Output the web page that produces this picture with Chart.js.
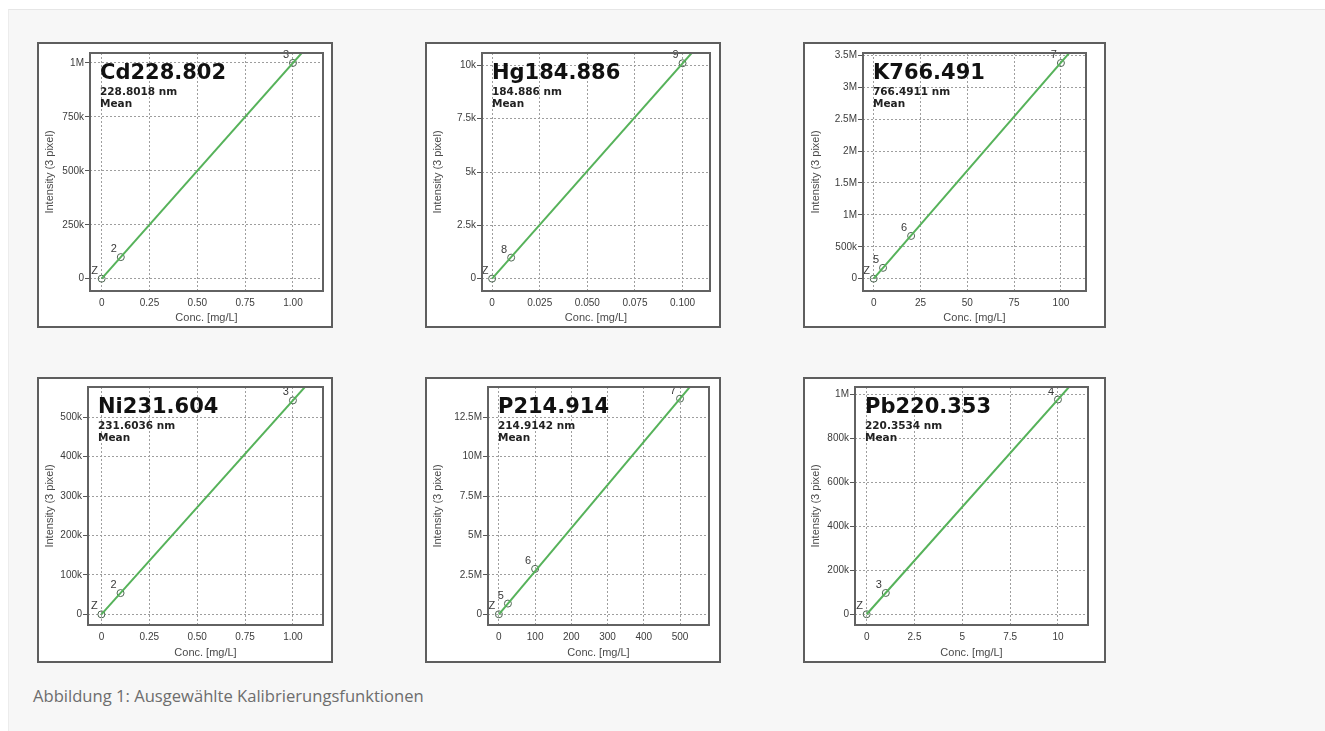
<!DOCTYPE html>
<html>
<head>
<meta charset="utf-8">
<script src="https://cdn.jsdelivr.net/npm/chart.js@4.4.1/dist/chart.umd.min.js"></script>
<style>
html, body { margin: 0; padding: 0; background: #fff; width: 1325px; height: 731px; overflow: hidden; }
#fig { position: absolute; left: 8px; top: 9px; width: 1317px; height: 722px; background: #f7f7f7; border-top: 1px solid #e6e6e6; border-left: 1px solid #ececec; }
.panel { position: absolute; background: #fff; border: 2px solid #5e5e5e; box-sizing: border-box; }
.panel canvas { display: block; }
#cap { position: absolute; left: 33px; top: 685px; font: 16.6px "Open Sans"; line-height: 22px; color: #6d6d6d; }
</style>
</head>
<body>
<div id="fig"></div>
<div id="cap">Abbildung 1: Ausgewählte Kalibrierungsfunktionen</div>
<script>
// element lines
let elements = ['Cd228.802', 'Hg184.886', 'K766.491', 'Ni231.604', 'P214.914', 'Pb220.353']
let wavelengths = ['228.8018 nm', '184.886 nm', '766.4911 nm', '231.6036 nm', '214.9142 nm', '220.3534 nm']

// calibration standards (conc mg/L, intensity)
let cdConc = [0, 0.1, 1], cdInt = [0, 100000, 1000000], cdLbl = ['Z', '2', '3']
let hgConc = [0, 0.01, 0.1], hgInt = [0, 985, 10100], hgLbl = ['Z', '8', '9']
let kConc = [0, 5, 20, 100], kInt = [0, 170000, 670000, 3380000], kLbl = ['Z', '5', '6', '7']
let niConc = [0, 0.1, 1], niInt = [0, 54000, 543000], niLbl = ['Z', '2', '3']
let pConc = [0, 25, 100, 500], pInt = [0, 680000, 2880000, 13680000], pLbl = ['Z', '5', '6', '7']
let pbConc = [0, 1, 10], pbInt = [0, 97000, 978000], pbLbl = ['Z', '3', '4']

// fit line end points
let cdFitX = [0, 1.06], cdFitY = [0, 1060000]
let hgFitX = [0, 0.106], hgFitY = [0, 10700]
let kFitX = [0, 106], kFitY = [0, 3590000]
let niFitX = [0, 1.07], niFitY = [0, 581000]
let pFitX = [0, 530], pFitY = [0, 14500000]
let pbFitX = [0, 10.6], pbFitY = [0, 1037000]

// axis ranges
let xRanges = [[-0.061, 1.157], [-0.0053, 0.1144], [-5.7, 113.4], [-0.07, 1.157], [-30, 580], [-0.61, 11.57]]
let yRanges = [[-57000, 1046000], [-580, 10580], [-193000, 3537000], [-27000, 577000], [-680000, 14420000], [-49000, 1035000]]

// ticks
let cdXTicks = [0, 0.25, 0.5, 0.75, 1], cdXLabels = ['0', '0.25', '0.50', '0.75', '1.00']
let cdYTicks = [0, 250000, 500000, 750000, 1000000], cdYLabels = ['0', '250k', '500k', '750k', '1M']
let hgXTicks = [0, 0.025, 0.05, 0.075, 0.1], hgXLabels = ['0', '0.025', '0.050', '0.075', '0.100']
let hgYTicks = [0, 2500, 5000, 7500, 10000], hgYLabels = ['0', '2.5k', '5k', '7.5k', '10k']
let kXTicks = [0, 25, 50, 75, 100], kXLabels = ['0', '25', '50', '75', '100']
let kYTicks = [0, 500000, 1000000, 1500000, 2000000, 2500000, 3000000, 3500000]
let kYLabels = ['0', '500k', '1M', '1.5M', '2M', '2.5M', '3M', '3.5M']
let niXTicks = [0, 0.25, 0.5, 0.75, 1], niXLabels = ['0', '0.25', '0.50', '0.75', '1.00']
let niYTicks = [0, 100000, 200000, 300000, 400000, 500000], niYLabels = ['0', '100k', '200k', '300k', '400k', '500k']
let pXTicks = [0, 100, 200, 300, 400, 500], pXLabels = ['0', '100', '200', '300', '400', '500']
let pYTicks = [0, 2500000, 5000000, 7500000, 10000000, 12500000], pYLabels = ['0', '2.5M', '5M', '7.5M', '10M', '12.5M']
let pbXTicks = [0, 2.5, 5, 7.5, 10], pbXLabels = ['0', '2.5', '5', '7.5', '10']
let pbYTicks = [0, 200000, 400000, 600000, 800000, 1000000], pbYLabels = ['0', '200k', '400k', '600k', '800k', '1M']

let series = [
  [cdConc, cdInt, cdLbl, cdFitX, cdFitY, cdXTicks, cdXLabels, cdYTicks, cdYLabels],
  [hgConc, hgInt, hgLbl, hgFitX, hgFitY, hgXTicks, hgXLabels, hgYTicks, hgYLabels],
  [kConc, kInt, kLbl, kFitX, kFitY, kXTicks, kXLabels, kYTicks, kYLabels],
  [niConc, niInt, niLbl, niFitX, niFitY, niXTicks, niXLabels, niYTicks, niYLabels],
  [pConc, pInt, pLbl, pFitX, pFitY, pXTicks, pXLabels, pYTicks, pYLabels],
  [pbConc, pbInt, pbLbl, pbFitX, pbFitY, pbXTicks, pbXLabels, pbYTicks, pbYLabels]
]

// panel boxes: x, y, w, h and plot margins left, right, top, bottom
let boxes = [
  [37, 42, 296, 286, 53, 10, 11, 37],
  [425, 42, 296, 286, 57, 11, 11, 37],
  [803, 42, 303, 286, 60, 20, 11, 37],
  [37, 377, 296, 286, 51, 10, 10, 38],
  [425, 377, 296, 286, 63, 12, 10, 38],
  [803, 377, 303, 286, 52, 18, 10, 38]
]

let tickFont = {family: 'Liberation Sans', size: 10}
let axisFont = {family: 'Liberation Sans', size: 11}

function makeChart(i) {
  let b = boxes[i]
  let [conc, inten, lbl, fx, fy, xt, xl, yt, yl] = series[i]

  let div = document.createElement('div')
  div.className = 'panel'
  div.style.left = b[0] + 'px'
  div.style.top = b[1] + 'px'
  div.style.width = b[2] + 'px'
  div.style.height = b[3] + 'px'
  let cv = document.createElement('canvas')
  cv.width = b[2] - 4
  cv.height = b[3] - 4
  div.appendChild(cv)
  document.body.appendChild(div)

  let fitData = fx.map((x, k) => ({x: x, y: fy[k]}))

  let decor = {
    id: 'decor' + i,
    afterDatasetsDraw(chart) {
      let c = chart.ctx
      let meta = chart.getDatasetMeta(2)
      c.save()
      c.fillStyle = '#3a3a3a'
      c.font = '11px "Liberation Sans"'
      c.textAlign = 'center'
      c.textBaseline = 'middle'
      meta.data.forEach((pt, k) => c.fillText(lbl[k], pt.x - 7, pt.y - 8))
      c.restore()
    },
    afterDraw(chart) {
      let a = chart.chartArea
      let c = chart.ctx
      c.save()
      c.strokeStyle = '#626262'
      c.lineWidth = 2
      c.strokeRect(a.left, a.top, a.right - a.left, a.bottom - a.top)
      c.fillStyle = '#111'
      c.textAlign = 'left'
      c.textBaseline = 'alphabetic'
      c.font = 'bold 21px "DejaVu Sans"'
      c.fillText(elements[i], a.left + 10, a.top + 26)
      c.fillStyle = '#222'
      c.font = 'bold 10.5px "DejaVu Sans"'
      c.fillText(wavelengths[i], a.left + 10, a.top + 42)
      c.fillText('Mean', a.left + 10, a.top + 54)
      c.restore()
    }
  }

  new Chart(cv, {
    type: 'scatter',
    data: {
      datasets: [
        {type: 'line', data: fitData, borderColor: 'rgb(86,178,90)', borderWidth: 2, pointRadius: 0, tension: 0},
        {type: 'line', data: fitData, borderColor: 'rgba(40,80,40,0.45)', borderWidth: 1, borderDash: [1, 4], pointRadius: 0, tension: 0},
        {data: conc.map((x, k) => ({x: x, y: inten[k]})), pointRadius: 3.5, pointBorderWidth: 1,
          pointBorderColor: '#4e6652', pointBackgroundColor: 'rgba(255,255,255,0)', showLine: false}
      ]
    },
    options: {
      responsive: false,
      animation: false,
      events: [],
      layout: {padding: {left: 0, top: b[6] - 2, right: b[5] - 2, bottom: 0}},
      plugins: {legend: {display: false}, tooltip: {enabled: false}},
      scales: {
        x: {
          type: 'linear', min: xRanges[i][0], max: xRanges[i][1],
          afterBuildTicks: s => { s.ticks = xt.map(v => ({value: v})) },
          afterFit: s => { s.height = b[7] - 2 },
          ticks: {callback: (v, k) => xl[k], autoSkip: false, maxRotation: 0, padding: 6, color: '#3c3c3c', font: tickFont},
          grid: {color: '#9e9e9e', lineWidth: 1, drawTicks: false},
          border: {display: false, dash: [2, 2]},
          title: {display: true, text: 'Conc. [mg/L]', color: '#4a4a4a', font: axisFont, padding: {top: 0, bottom: 1}}
        },
        y: {
          type: 'linear', min: yRanges[i][0], max: yRanges[i][1],
          afterBuildTicks: s => { s.ticks = yt.map(v => ({value: v})) },
          afterFit: s => { s.width = b[4] - 2 },
          ticks: {callback: (v, k) => yl[k], autoSkip: false, padding: 1, color: '#3c3c3c', font: tickFont},
          grid: {color: '#9e9e9e', lineWidth: 1, drawTicks: true, tickLength: 5, tickColor: '#555'},
          border: {display: false, dash: [2, 2]},
          title: {display: true, text: 'Intensity (3 pixel)', color: '#4a4a4a', font: axisFont, padding: {top: 4, bottom: 0}}
        }
      }
    },
    plugins: [decor]
  })
}

for (let i = 0; i < 6; i++) makeChart(i)
</script>
</body>
</html>
